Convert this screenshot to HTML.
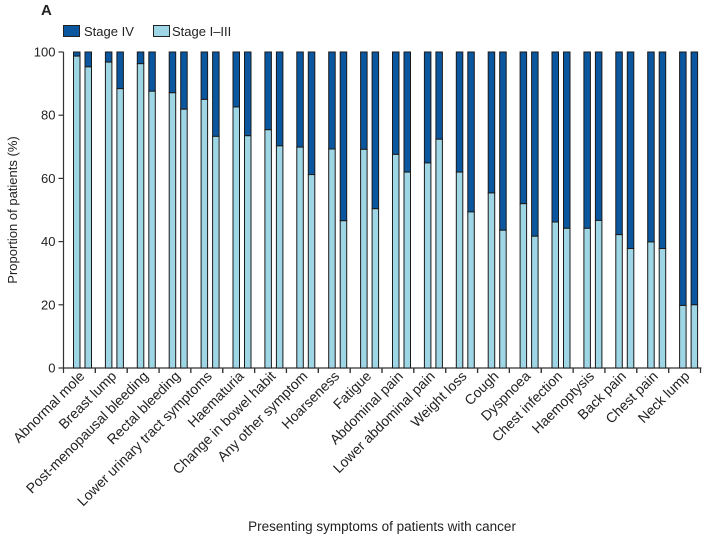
<!DOCTYPE html>
<html><head><meta charset="utf-8"><style>
body{margin:0;background:#fff;}
svg text{font-family:"Liberation Sans",sans-serif;fill:#222;}
</style></head><body>
<svg id="chart" width="707" height="537" viewBox="0 0 707 537" xmlns="http://www.w3.org/2000/svg">
<text x="41" y="15" font-size="15" font-weight="bold">A</text>
<g>
<rect x="63.5" y="25.5" width="16" height="11" fill="#0a57a0" stroke="#222"/>
<text x="84" y="36" font-size="13">Stage IV</text>
<rect x="153.5" y="25.5" width="16" height="11" fill="#9fd6e6" stroke="#222"/>
<text x="172" y="36" font-size="13">Stage I–III</text>
</g>
<g id="plot"></g>
<text x="382" y="531" font-size="13.5" text-anchor="middle">Presenting symptoms of patients with cancer</text>
<text transform="translate(17,210) rotate(-90)" font-size="13" text-anchor="middle">Proportion of patients (%)</text>
</svg>
<script>
const categories=["Abnormal mole","Breast lump","Post-menopausal bleeding","Rectal bleeding","Lower urinary tract symptoms","Haematuria","Change in bowel habit","Any other symptom","Hoarseness","Fatigue","Abdominal pain","Lower abdominal pain","Weight loss","Cough","Dyspnoea","Chest infection","Haemoptysis","Back pain","Chest pain","Neck lump"];
const stageI_III_barA=[98.7,96.8,96.3,87.1,85,82.6,75.4,69.9,69.3,69.2,67.6,64.9,62,55.4,52,46.2,44.2,42.2,39.9,19.8];
const stageI_III_barB=[95.3,88.4,87.6,81.9,73.3,73.5,70.3,61.2,46.6,50.4,62,72.4,49.4,43.6,41.7,44.2,46.7,37.8,37.8,20];
const yTicks=[0,20,40,60,80,100];
const NS="http://www.w3.org/2000/svg";
const g=document.getElementById('plot');
const x0=63.5,step=31.85,y0=368,y100=52;
const yS=v=>y0-(v/100)*(y0-y100);
const catLeft=i=>x0+step*i;
function mk(tag,attrs){const e=document.createElementNS(NS,tag);for(const k in attrs)e.setAttribute(k,attrs[k]);g.appendChild(e);return e;}
let ax=mk('line',{x1:x0,y1:y100,x2:x0,y2:y0,stroke:'#333','stroke-width':1.2});


yTicks.forEach(t=>{
 const l=mk('line',{x1:x0-5,x2:x0,y1:yS(t),y2:yS(t),stroke:'#333','stroke-width':1.2});
 
 
 const tx=mk('text',{x:x0-8,y:yS(t)+4.5,'font-size':13,'text-anchor':'end'});
 tx.textContent=t;
 
 
});
let xa=mk('line',{x1:x0,y1:y0,x2:catLeft(categories.length)+1,y2:y0,stroke:'#333','stroke-width':1.2});


categories.forEach((c,i)=>{
 const t=mk('line',{x1:catLeft(i+1),x2:catLeft(i+1),y1:y0,y2:y0+5,stroke:'#333','stroke-width':1.2});
 
 
 const t0=mk('line',{x1:catLeft(i),x2:catLeft(i),y1:y0,y2:y0+5,stroke:'#333','stroke-width':1.2});
 
 
 [stageI_III_barA[i],stageI_III_barB[i]].forEach((v,j)=>{
  const bx=catLeft(i)+10+j*11.5+i*0.05, w=6.5;
  const top=mk('rect',{x:bx,y:y100,width:w,height:yS(v)-y100,fill:'#0a57a0',stroke:'#1a1a1a','stroke-width':1});
  
  
  const bot=mk('rect',{x:bx,y:yS(v),width:w,height:y0-yS(v),fill:'#9fd6e6',stroke:'#1a1a1a','stroke-width':1});
  
  
 });
 const cx=catLeft(i)+step/2+6;
 const lb=mk('text',{transform:`translate(${cx},377) rotate(-45)`,'font-size':14,'text-anchor':'end'});
 lb.textContent=c;
 
 
});
</script>
</body></html>
